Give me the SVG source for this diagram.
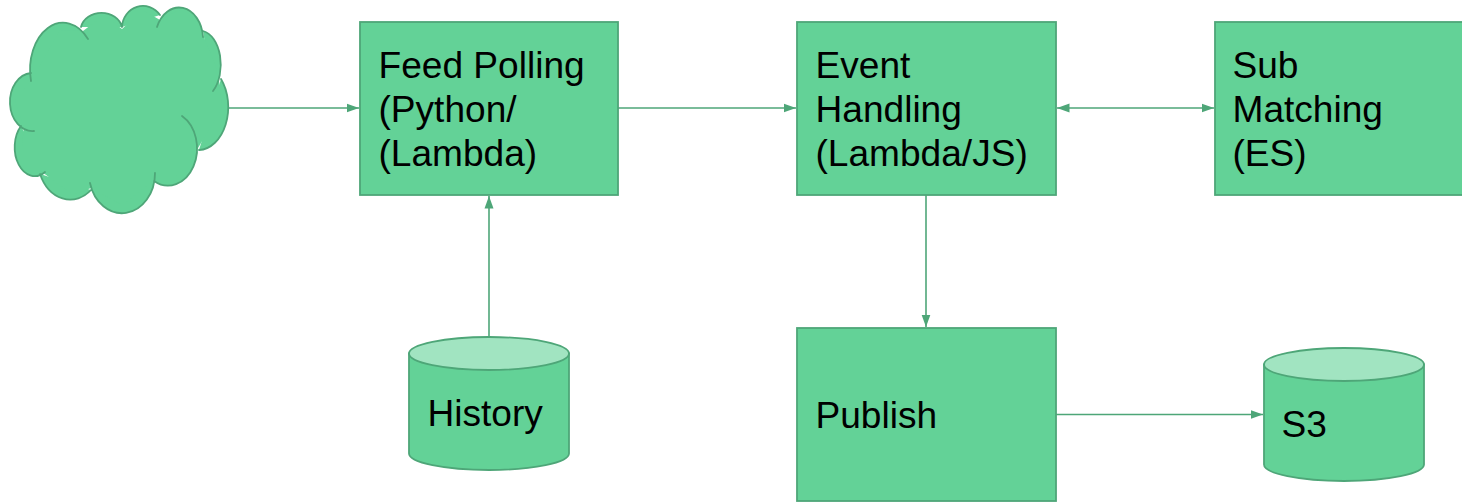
<svg xmlns="http://www.w3.org/2000/svg" width="1462" height="502" viewBox="0 0 1462 502">
<style>
.s{fill:#63d297;stroke:#4ea678;stroke-width:1.8}
.t{fill:#a1e4c1;stroke:#4ea678;stroke-width:1.8}
.f{fill:#63d297}
.o{fill:none;stroke:#4ea678;stroke-width:1.8;stroke-linecap:round}
.c{fill:none;stroke:#4ea678;stroke-width:1.6}
text{font-family:"Liberation Sans",Arial,sans-serif;font-size:37.100px;fill:#000}
</style>
<defs>
<marker id="a" markerUnits="userSpaceOnUse" markerWidth="13" markerHeight="10" refX="12.5" refY="5" orient="auto-start-reverse"><path d="M0 .5L12.5 5L0 9.500z" fill="#4ea678"/></marker>
<path id="lobes" d="M31 81A33 47 0 0 1 88 39M81 27A21 18 0 0 1 122 27M122 27A21 22 0 0 1 160 15M157 27A24 32 0 0 1 203 37M203 31A21 34 0 0 1 213 91M221 79A30 43 0 0 1 199 150M182 116A29 37 0 1 1 154 181M155 173A33 40 0 0 1 90 183M91 190A33 43 0 0 1 40 174M45 172A20 29 0 0 1 21 126M34 131A22.500 29 0 0 1 31 73"/>
</defs>
<rect width="1462" height="502" fill="#fff"/>
<g id="connectors">
<path class="c" d="M228 108H359" marker-end="url(#a)"/>
<path class="c" d="M618 108H796" marker-end="url(#a)"/>
<path class="c" d="M1057 108H1214" marker-start="url(#a)" marker-end="url(#a)"/>
<path class="c" d="M489 337V196" marker-end="url(#a)"/>
<path class="c" d="M926 195V327" marker-end="url(#a)"/>
<path class="c" d="M1056 414.500H1263" marker-end="url(#a)"/>
</g>
<g id="cloud">
<use href="#lobes" class="f"/>
<path class="f" d="M33 78L60 30L83 31L104 15L122 29L143 10L160 20L179 10L203 35L215 64L219 80L222 108L198 148L190 165L172 180L155 180L122 205L91 188L73 195L42 172L22 146L24 127L15 100Z"/>
<use href="#lobes" class="o"/>
</g>
<g id="feed-polling">
<rect class="s" x="360" y="22" width="258" height="173"/>
<text x="378.500" y="78">Feed Polling</text>
<text x="378.500" y="122">(Python/</text>
<text x="378.500" y="166">(Lambda)</text>
</g>
<g id="event-handling">
<rect class="s" x="797" y="22" width="259" height="173"/>
<text x="815.500" y="78">Event</text>
<text x="815.500" y="122">Handling</text>
<text x="815.500" y="166">(Lambda/JS)</text>
</g>
<g id="sub-matching">
<rect class="s" x="1215" y="22" width="259" height="173"/>
<text x="1232.500" y="78">Sub</text>
<text x="1232.500" y="122">Matching</text>
<text x="1232.500" y="166">(ES)</text>
</g>
<g id="publish">
<rect class="s" x="797" y="328" width="259" height="173"/>
<text x="815.500" y="428">Publish</text>
</g>
<g id="history">
<path class="s" d="M409 353.500V453.500A80 16.500 0 0 0 569 453.500V353.500Z"/>
<ellipse class="t" cx="489" cy="353.500" rx="80" ry="16.500"/>
<text x="427.500" y="426">History</text>
</g>
<g id="s3">
<path class="s" d="M1264 364.500V464.500A80 16.500 0 0 0 1424 464.500V364.500Z"/>
<ellipse class="t" cx="1344" cy="364.500" rx="80" ry="16.500"/>
<text x="1281.500" y="437">S3</text>
</g>
</svg>
